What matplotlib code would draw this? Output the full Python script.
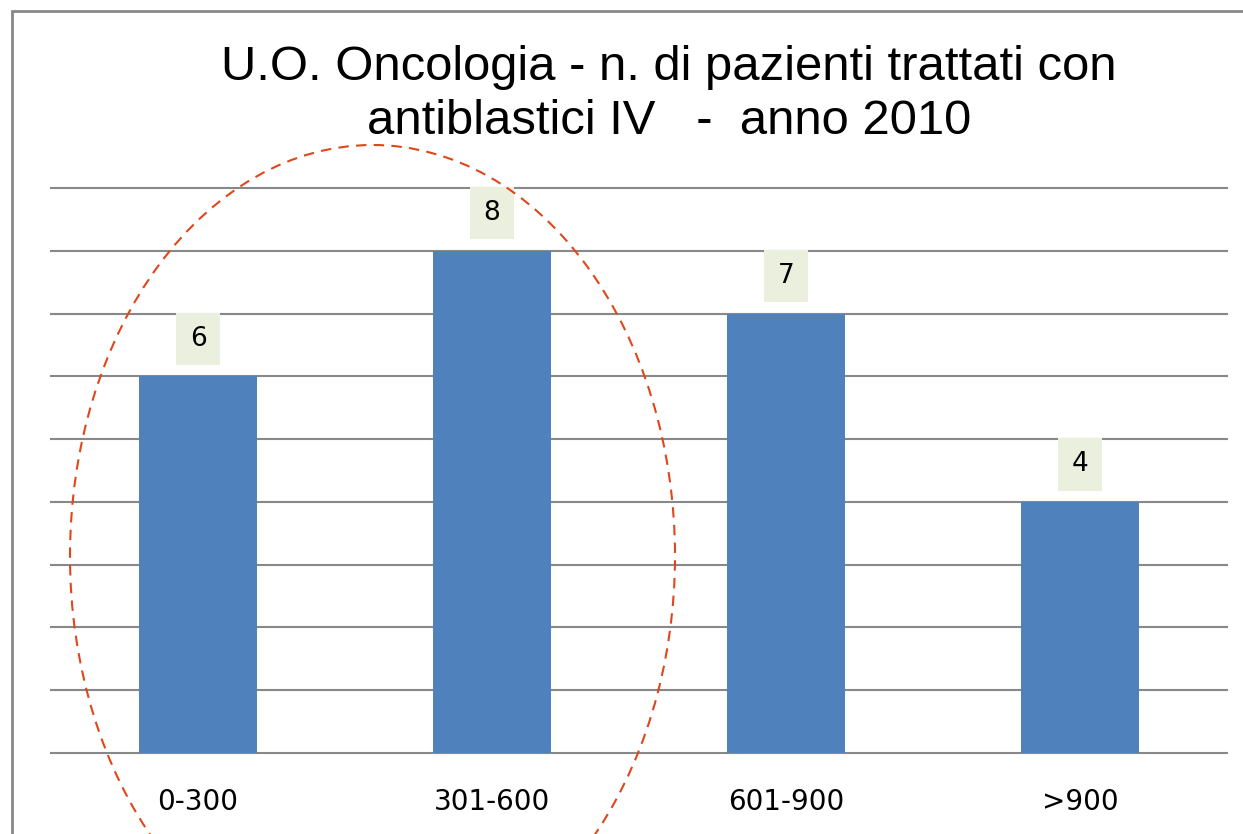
import matplotlib

matplotlib.use("Agg")
import matplotlib.pyplot as plt
from matplotlib.patches import Ellipse, Rectangle

categories = ["0-300", "301-600", "601-900", ">900"]
patients = [6, 8, 7, 4]
title_lines = ["U.O. Oncologia - n. di pazienti trattati con", "antiblastici IV   -  anno 2010"]

BAR = "#4f81bd"
GRID = "#888888"
LABEL_BG = "#ebf0de"
RED = "#e0461a"

fig = plt.figure(figsize=(12.43, 8.34), dpi=100)
ax = fig.add_axes([51 / 1243, 1 - 753 / 834, 1176 / 1243, 565 / 834])

x = range(len(categories))
ax.bar(x, patients, width=0.4, color=BAR, zorder=3)
ax.set_xlim(-0.5, len(categories) - 0.5)
ax.set_ylim(0, 9)
ax.set_yticks(range(0, 10))
ax.yaxis.grid(True, color=GRID, linewidth=1.5)
for gl in ax.get_ygridlines():
    gl.set_clip_on(False)
ax.set_axisbelow(True)
ax.tick_params(axis="y", left=False, labelleft=False)
ax.tick_params(axis="x", bottom=False, pad=22)
ax.set_xticks(list(x))
ax.set_xticklabels(categories, fontsize=20, fontfamily="DejaVu Sans")
for s in ax.spines.values():
    s.set_visible(False)

for i, v in zip(x, patients):
    ax.annotate(str(v), (i, v), xytext=(0, 27), textcoords="offset points",
                ha="center", va="center", fontsize=19, fontfamily="DejaVu Sans",
                bbox=dict(boxstyle="square,pad=0.5", fc=LABEL_BG, ec="none"))

fig.text(0.538, 1 - 67 / 834, title_lines[0], ha="center", va="center",
         fontsize=35.3, fontfamily="Liberation Sans")
fig.text(0.538, 1 - 122 / 834, title_lines[1], ha="center", va="center",
         fontsize=35.3, fontfamily="Liberation Sans")

# gray slide frame
fig.patches.append(Rectangle((12 / 1243, -0.1), 1.2, 1 - 11 / 834 + 0.1, transform=fig.transFigure,
                             fill=False, ec=GRID, lw=2))

# dashed ellipse highlighting the first two groups
fig.patches.append(Ellipse((372.5 / 1243, 1 - 556 / 834), 605 / 1243, 822 / 834,
                           transform=fig.transFigure, fill=False, ec=RED, lw=1.5,
                           ls=(0, (5, 3.5)), zorder=5))

fig.savefig("out.png", dpi=100)
